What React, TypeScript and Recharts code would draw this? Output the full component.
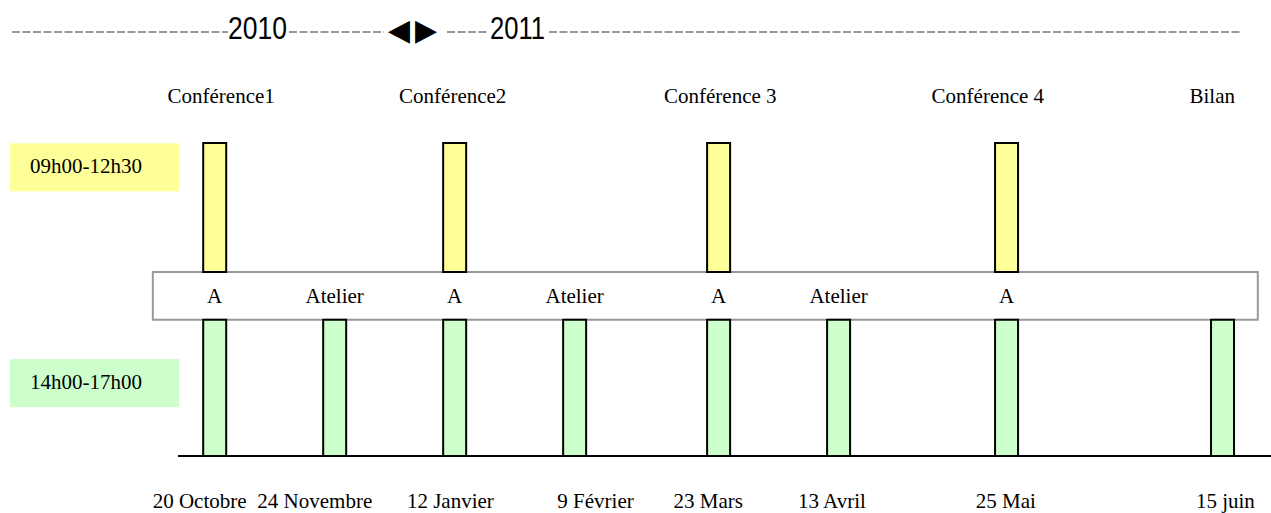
import React from "react";
import { ComposedChart, Bar, XAxis, YAxis, ReferenceArea, LabelList } from "recharts";

// timeline slots (one per session day)
const slots = [1, 2, 3, 4, 5.2, 6.2, 7.6, 9.4];
const dates = ["20 Octobre", "24 Novembre", "12 Janvier", "9 Février", "23 Mars", "13 Avril", "25 Mai", "15 juin"];
const datePos = [0.87, 1.83, 2.96, 4.17, 5.11, 6.14, 7.59, 9.42];
const boxLabels = ["A", "Atelier", "A", "Atelier", "A", "Atelier", "A", ""];
const morning = [[58.8, 100], null, [58.8, 100], null, [58.8, 100], null, [58.8, 100], null];
const afternoon = [[0, 43.5], [0, 43.5], [0, 43.5], [0, 43.5], [0, 43.5], [0, 43.5], [0, 43.5], [0, 43.5]];

const topLabels = ["Conférence1", "Conférence2", "Conférence 3", "Conférence 4", "Bilan"];
const topPos = [1.05, 2.98, 5.21, 7.44, 9.31];

const rowLabels = ["09h00-12h30", "14h00-17h00"];
const rowPos = [92.2, 23.3];
const rowColors = ["#FFFF99", "#CCFFCC"];

const X_DOMAIN = [0.69, 9.8];
const BOX_X = [0.48, 9.69];
const BOX_Y = [43.5, 58.8];

const serif = { fontFamily: "'Liberation Serif', 'Times New Roman', serif", fontSize: 21 };

const data = slots.map((pos, i) => ({
  pos,
  am: morning[i],
  pm: afternoon[i],
  box: boxLabels[i],
}));

function TopTick(props: any) {
  const { x, y, payload } = props;
  const label = topLabels[topPos.indexOf(payload.value)];
  return (
    <text x={x} y={y} textAnchor="middle" style={serif} fill="#000">
      {label}
    </text>
  );
}

function DateTick(props: any) {
  const { x, y, payload } = props;
  const label = dates[datePos.indexOf(payload.value)];
  return (
    <text x={x} y={y} textAnchor="middle" style={serif} fill="#000">
      {label}
    </text>
  );
}

function RowTick(props: any) {
  const { x, y, payload } = props;
  const i = rowPos.indexOf(payload.value);
  return (
    <g>
      <rect x={x - 168} y={y - 24} width={169} height={48} fill={rowColors[i]} />
      <text x={x - 148} y={y + 6} style={serif} fill="#000">
        {rowLabels[i]}
      </text>
    </g>
  );
}

function BoxLabel(props: any) {
  const vb = props.viewBox || props;
  const x = (vb.x ?? props.x) + (vb.width ?? props.width) / 2;
  const y = vb.y ?? props.y;
  if (!props.value) return null;
  return (
    <text x={x} y={y - 17} textAnchor="middle" style={serif} fill="#000">
      {props.value}
    </text>
  );
}

function Header() {
  const dash = { stroke: "#999", strokeWidth: 2, strokeDasharray: "8 2.5" };
  const sans = { fontFamily: "'Liberation Sans', Arial, sans-serif", fontSize: 31 };
  const arrow = { fontFamily: "'DejaVu Sans', sans-serif", fontSize: 30 };
  return (
    <svg width={1271} height={60} style={{ position: "absolute", left: 0, top: 0 }}>
      <line x1={12} x2={228} y1={32} y2={32} {...dash} />
      <text x={228} y={39} style={sans} textLength={59} lengthAdjust="spacingAndGlyphs">2010</text>
      <line x1={289} x2={384} y1={32} y2={32} {...dash} />
      <text x={388} y={40} style={arrow} textLength={22} lengthAdjust="spacingAndGlyphs">◀</text>
      <text x={415} y={40} style={arrow} textLength={22} lengthAdjust="spacingAndGlyphs">▶</text>
      <line x1={447} x2={489} y1={32} y2={32} {...dash} />
      <text x={490} y={39} style={sans} textLength={55} lengthAdjust="spacingAndGlyphs">2011</text>
      <line x1={549} x2={1240} y1={32} y2={32} {...dash} />
    </svg>
  );
}

export default function App() {
  return (
    <div style={{ position: "absolute", left: 0, top: 0, width: 1271, height: 513, background: "#fff" }}>
      <ComposedChart width={1271} height={513} data={data} margin={{ top: 103, right: 0, bottom: 0, left: 0 }}>
        <XAxis
          xAxisId="top"
          orientation="top"
          type="number"
          dataKey="pos"
          domain={X_DOMAIN}
          ticks={topPos}
          height={40}
          axisLine={false}
          tickLine={false}
          tickSize={0}
          tickMargin={40}
          tick={<TopTick />}
          interval={0}
          allowDataOverflow
        />
        <XAxis
          xAxisId="dates"
          orientation="bottom"
          type="number"
          dataKey="pos"
          domain={X_DOMAIN}
          ticks={datePos}
          height={57}
          axisLine={{ stroke: "#000", strokeWidth: 2 }}
          tickLine={false}
          tickSize={0}
          tickMargin={52}
          tick={<DateTick />}
          interval={0}
          allowDataOverflow
        />
        <YAxis
          type="number"
          domain={[0, 100]}
          ticks={rowPos}
          width={178}
          axisLine={false}
          tickLine={false}
          tickSize={0}
          tickMargin={0}
          tick={<RowTick />}
          interval={0}
        />
        <ReferenceArea
          xAxisId="dates"
          x1={BOX_X[0]}
          x2={BOX_X[1]}
          y1={BOX_Y[0]}
          y2={BOX_Y[1]}
          ifOverflow="visible"
          fill="#fff"
          fillOpacity={1}
          stroke="#999"
          strokeWidth={2}
        />
        <Bar xAxisId="top" dataKey="am" barSize={23} fill="#FFFF99" stroke="#000" strokeWidth={2} isAnimationActive={false} />
        <Bar xAxisId="dates" dataKey="pm" barSize={23} fill="#CCFFCC" stroke="#000" strokeWidth={2} isAnimationActive={false}>
          <LabelList dataKey="box" content={<BoxLabel />} />
        </Bar>
      </ComposedChart>
      <Header />
    </div>
  );
}
